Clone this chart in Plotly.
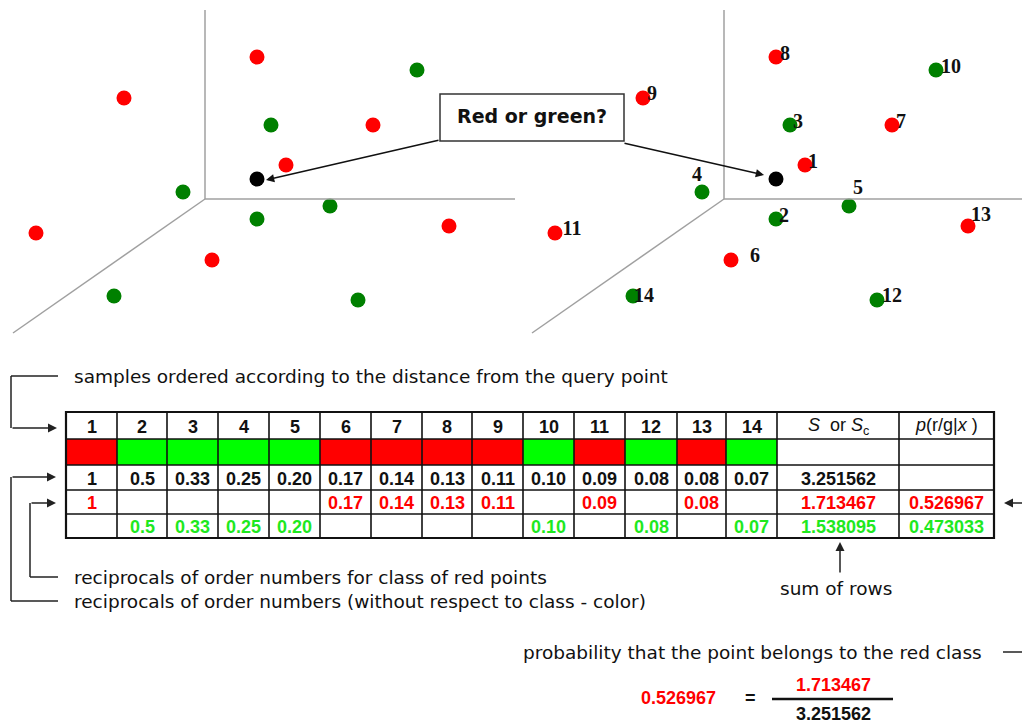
import plotly.graph_objects as go

# ---------------- data ----------------
RANK = [1, 2, 3, 4, 5, 6, 7, 8, 9, 10, 11, 12, 13, 14]
SAMPLE_CLASS = ["red", "green", "green", "green", "green", "red", "red",
                "red", "red", "green", "red", "green", "red", "green"]
SAMPLE_X = [286, 257, 271, 183, 330, 212, 373, 257, 124, 417, 36, 358, 449, 114]
SAMPLE_Y = [165, 219, 125, 192, 206, 260, 125, 57, 98, 70, 233, 300, 226, 296]
QUERY_X = [257]
QUERY_Y = [179]

RECIP_ALL = ["1", "0.5", "0.33", "0.25", "0.20", "0.17", "0.14", "0.13",
             "0.11", "0.10", "0.09", "0.08", "0.08", "0.07"]
RECIP_RED = ["1", "", "", "", "", "0.17", "0.14", "0.13", "0.11", "",
             "0.09", "", "0.08", ""]
RECIP_GREEN = ["", "0.5", "0.33", "0.25", "0.20", "", "", "", "", "0.10",
               "", "0.08", "", "0.07"]
SUM_ALL = "3.251562"
SUM_RED = "1.713467"
SUM_GREEN = "1.538095"
P_RED = "0.526967"
P_GREEN = "0.473033"

# ---------------- layout / style constants ----------------
W, H = 1030, 721
PAGE_MARGIN = 8  # browser body margin; compensated through the axis ranges
PANEL_SHIFT = 519
LABEL_DX = [8, 8, 8, -5, 9, 24, 9, 9, 9, 15, 17, 15, 13, 11]
LABEL_DY = [-2, -2, -2, -16, -17, -3, -2, -2, -3, -2, -3, -3, -10, 1]
COL_EDGES = [66, 117, 167, 218, 269, 320, 371, 422, 472, 523, 574, 625,
             677, 726, 777, 899, 994]
ROW_EDGES = [412, 439, 465, 490, 514, 538]

RED = "#ff0000"
DKGREEN = "#008000"
LIME = "#00ff00"
TXT_GREEN = "#1ee81e"
AXIS_GRAY = "#a0a0a0"
SANS = "DejaVu Sans"
ARIAL = "Liberation Sans"
SERIF = "Liberation Serif"
TS = 18  # table / formula font size

DOT_COLOR = {"red": RED, "green": DKGREEN}

fig = go.Figure()
shapes = []
ann = []


def line(x0, y0, x1, y1, color="#222", width=1.5):
    shapes.append(dict(type="line", x0=x0, y0=y0, x1=x1, y1=y1, xref="x", yref="y",
                       line=dict(color=color, width=width)))


def arrow(x0, y0, x1, y1, color="#222", width=1.5, head=2, size=1.2):
    ann.append(dict(x=x1, y=y1, ax=x0, ay=y0, xref="x", yref="y", axref="x", ayref="y",
                    text="", showarrow=True, arrowhead=head, arrowsize=size,
                    arrowwidth=width, arrowcolor=color, standoff=0, startstandoff=0))


def text(x, y, s, size=15, color="#111", bold=False, xanchor="center", family=SANS):
    ann.append(dict(x=x, y=y, xref="x", yref="y", text=s, showarrow=False,
                    xanchor=xanchor, yanchor="middle",
                    font=dict(family=family, size=size, color=color,
                              weight="bold" if bold else "normal")))


# ---------------- 3D-like panels ----------------
for s in (0, PANEL_SHIFT):
    line(205 + s, 10, 205 + s, 199, AXIS_GRAY, 1.5)
    line(205 + s, 199, 515 + s, 199, AXIS_GRAY, 1.5)
    line(205 + s, 199, 13 + s, 333, AXIS_GRAY, 1.5)

colors = [DOT_COLOR[c] for c in SAMPLE_CLASS]
fig.add_trace(go.Scatter(x=SAMPLE_X, y=SAMPLE_Y, mode="markers",
                         marker=dict(size=15, color=colors, line=dict(width=0)),
                         hoverinfo="skip", showlegend=False))
fig.add_trace(go.Scatter(x=[v + PANEL_SHIFT for v in SAMPLE_X], y=SAMPLE_Y, mode="markers",
                         marker=dict(size=15, color=colors, line=dict(width=0)),
                         hoverinfo="skip", showlegend=False))
fig.add_trace(go.Scatter(x=QUERY_X + [v + PANEL_SHIFT for v in QUERY_X], y=QUERY_Y * 2,
                         mode="markers", marker=dict(size=15, color="#000", line=dict(width=0)),
                         hoverinfo="skip", showlegend=False))
fig.add_trace(go.Scatter(
    x=[v + PANEL_SHIFT + dx for v, dx in zip(SAMPLE_X, LABEL_DX)],
    y=[v + dy for v, dy in zip(SAMPLE_Y, LABEL_DY)],
    mode="text", text=[str(r) for r in RANK], textposition="middle center",
    textfont=dict(family=SERIF, size=20, color="#111", weight="bold"),
    hoverinfo="skip", showlegend=False))

# question box + arrows
shapes.append(dict(type="rect", x0=440, y0=94, x1=624, y1=141, xref="x", yref="y",
                   line=dict(color="#333", width=1.5), fillcolor="white", layer="above"))
text(532, 116, "Red or green?", size=19, color="#111", bold=True)
arrow(440, 140, 266, 180, "#111", 1.5, 2, 1.1)
arrow(623, 143, 764, 175, "#111", 1.5, 2, 1.1)

# ---------------- table ----------------
for i, cls in enumerate(SAMPLE_CLASS):
    shapes.append(dict(type="rect", x0=COL_EDGES[i], x1=COL_EDGES[i + 1],
                       y0=ROW_EDGES[1], y1=ROW_EDGES[2], xref="x", yref="y",
                       line=dict(width=0), fillcolor=RED if cls == "red" else LIME,
                       layer="below"))
for yv in ROW_EDGES:
    line(COL_EDGES[0], yv, COL_EDGES[-1], yv, "#111", 1.6)
for xv in COL_EDGES:
    line(xv, ROW_EDGES[0], xv, ROW_EDGES[-1], "#111", 1.6)
shapes.append(dict(type="rect", x0=COL_EDGES[0], x1=COL_EDGES[-1], y0=ROW_EDGES[0],
                   y1=ROW_EDGES[-1], xref="x", yref="y", line=dict(color="#111", width=2.2)))


def cx(i):
    return (COL_EDGES[i] + COL_EDGES[i + 1]) / 2


def cy(j):
    return (ROW_EDGES[j] + ROW_EDGES[j + 1]) / 2


for i, r in enumerate(RANK):
    text(cx(i), cy(0) + 1, str(r), TS, "#111", True, family=ARIAL)
    text(cx(i), cy(2) + 1, RECIP_ALL[i], TS, "#111", True, family=ARIAL)
    if RECIP_RED[i]:
        text(cx(i), cy(3) + 1, RECIP_RED[i], TS, RED, True, family=ARIAL)
    if RECIP_GREEN[i]:
        text(cx(i), cy(4) + 1, RECIP_GREEN[i], TS, TXT_GREEN, True, family=ARIAL)

text(cx(14), cy(0) + 1, "<i>S</i>  or <i>S</i><sub>c</sub>", TS, "#111", family=ARIAL)
text(cx(15), cy(0) - 1, "<i>p</i>(r/g|<i>x</i> )", TS, "#111", family=ARIAL)
text(cx(14), cy(2) + 1, SUM_ALL, TS, "#111", True, family=ARIAL)
text(cx(14), cy(3) + 1, SUM_RED, TS, RED, True, family=ARIAL)
text(cx(14), cy(4) + 1, SUM_GREEN, TS, TXT_GREEN, True, family=ARIAL)
text(cx(15), cy(3) + 1, P_RED, TS, RED, True, family=ARIAL)
text(cx(15), cy(4) + 1, P_GREEN, TS, TXT_GREEN, True, family=ARIAL)

# ---------------- explanatory labels & connectors ----------------
text(72, 376, "samples ordered according to the distance from the query point", 18.5,
     "#111", xanchor="left")
text(72, 577, "reciprocals of order numbers for class of red points", 18.5,
     "#111", xanchor="left")
text(72, 601, "reciprocals of order numbers (without respect to class - color)", 18.5,
     "#111", xanchor="left")
text(836, 588, "sum of rows", 18.5, "#111")
text(521, 652, "probability that the point belongs to the red class", 18.5,
     "#111", xanchor="left")

line(58, 376, 11, 376)
line(11, 376, 11, 428)
arrow(11, 428, 57, 428)
line(58, 601, 11, 601)
line(11, 601, 11, 477)
arrow(11, 477, 56, 477)
line(58, 577, 30, 577)
line(30, 577, 30, 503)
arrow(30, 503, 56, 503)

arrow(840, 574, 840, 542)
arrow(1036, 503, 1004, 503)
line(1003, 652, 1036, 652)

# formula
text(678, 698, P_RED, TS, RED, True, family=ARIAL)
text(750, 698, "=", TS, "#111", True, family=ARIAL)
text(833, 685, SUM_RED, TS, RED, True, family=ARIAL)
line(772, 699, 893, 699, "#111", 2.5)
text(833, 714, SUM_ALL, TS, "#111", True, family=ARIAL)

fig.update_layout(
    width=W, height=H, margin=dict(l=0, r=0, t=0, b=0),
    paper_bgcolor="white", plot_bgcolor="white",
    xaxis=dict(range=[PAGE_MARGIN, W + PAGE_MARGIN], visible=False, fixedrange=True),
    yaxis=dict(range=[H + PAGE_MARGIN, PAGE_MARGIN], visible=False, fixedrange=True),
    shapes=shapes, annotations=ann, showlegend=False,
)
fig.write_html("out.html")
